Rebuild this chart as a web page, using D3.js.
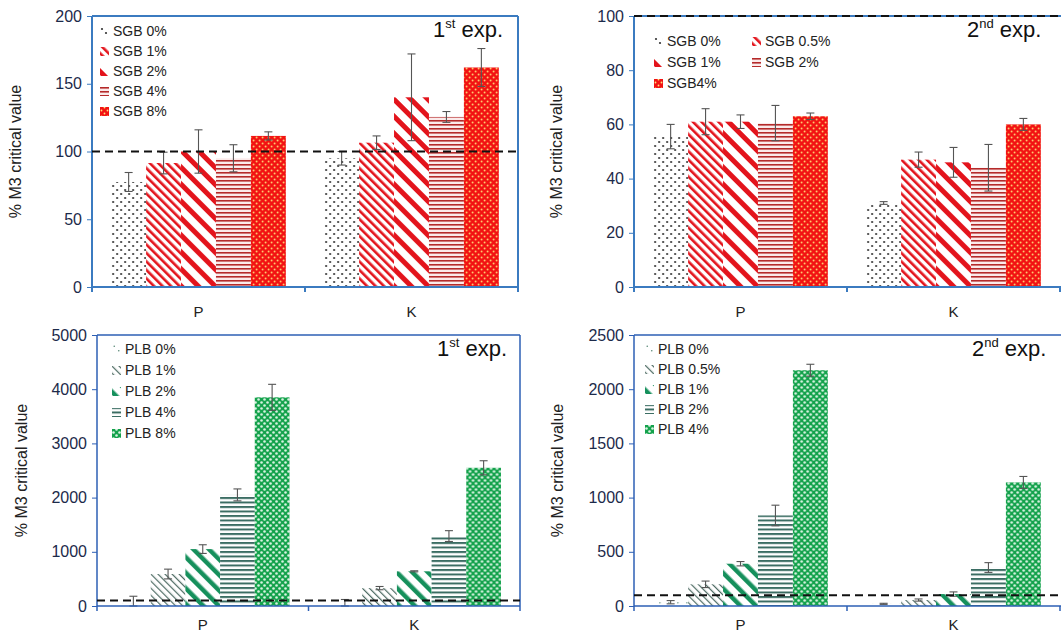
<!DOCTYPE html>
<html>
<head>
<meta charset="utf-8">
<script src="https://cdn.jsdelivr.net/npm/d3@7"></script>
<style>
body { margin: 0; background: #fff; }
svg { display: block; font-family: "Liberation Sans", Arial, sans-serif; }
</style>
</head>
<body>
<div id="chart"></div>
<script>
const groups = ['P', 'K'];

// SGB - 1st exp.
const sgb1Labels = ['SGB 0%', 'SGB 1%', 'SGB 2%', 'SGB 4%', 'SGB 8%'];
const sgb1P = [77.5, 91.5, 100, 95, 111.5];
const sgb1K = [95, 106.5, 140, 125.5, 162];
const sgb1ErrP = [7, 8, 16, 10, 3];
const sgb1ErrK = [5, 5, 32, 4, 14];

// SGB - 2nd exp.
const sgb2Labels = ['SGB 0%', 'SGB 0.5%', 'SGB 1%', 'SGB 2%', 'SGB4%'];
const sgb2P = [55.5, 61, 61, 60.5, 63];
const sgb2K = [31, 47, 46, 44, 60];
const sgb2ErrP = [4.5, 4.8, 2.5, 6.5, 1.2];
const sgb2ErrK = [0.5, 2.8, 5.5, 8.6, 2.2];

// PLB - 1st exp.
const plb1Labels = ['PLB 0%', 'PLB 1%', 'PLB 2%', 'PLB 4%', 'PLB 8%'];
const plb1P = [40, 590, 1050, 2050, 3850];
const plb1K = [30, 330, 640, 1290, 2550];
const plb1ErrP = [140, 90, 80, 110, 240];
const plb1ErrK = [90, 30, 10, 100, 130];

// PLB - 2nd exp.
const plb2Labels = ['PLB 0%', 'PLB 0.5%', 'PLB 1%', 'PLB 2%', 'PLB 4%'];
const plb2P = [35, 200, 390, 835, 2175];
const plb2K = [20, 55, 110, 355, 1140];
const plb2ErrP = [15, 30, 20, 95, 55];
const plb2ErrK = [5, 10, 20, 45, 55];

const critical = 100;

const svg = d3.select('#chart').append('svg')
    .attr('width', 1061)
    .attr('height', 636);
const defs = svg.append('defs');

// pattern helpers
function stripes(id, angle, period, lineW, color, bg) {
    const p = defs.append('pattern')
        .attr('id', id)
        .attr('patternUnits', 'userSpaceOnUse')
        .attr('width', period).attr('height', period)
        .attr('patternTransform', `rotate(${angle})`);
    p.append('rect').attr('width', period).attr('height', period).attr('fill', bg);
    p.append('rect').attr('width', lineW).attr('height', period).attr('fill', color);
}
function dots(id, size, r, color, bg) {
    const p = defs.append('pattern')
        .attr('id', id)
        .attr('patternUnits', 'userSpaceOnUse')
        .attr('width', size).attr('height', size);
    p.append('rect').attr('width', size).attr('height', size).attr('fill', bg);
    p.append('circle').attr('cx', size / 4).attr('cy', size / 4).attr('r', r).attr('fill', color);
    p.append('circle').attr('cx', size * 3 / 4).attr('cy', size * 3 / 4).attr('r', r).attr('fill', color);
}

dots('sgbDots', 8, 1.1, '#333', '#fff');
stripes('sgbThin', -45, 6, 2.6, '#e3141c', '#fff');
stripes('sgbWide', -45, 12, 5, '#e3141c', '#fff');
stripes('sgbHoriz', 90, 4, 1.6, '#b52a2a', '#fbeaea');
dots('sgbFull', 6, 0.9, '#ffe07a', '#f21212');

dots('plbDots', 9, 0.8, '#5a8a78', '#fff');
stripes('plbThin', -45, 5, 1.2, '#4d6b63', '#fff');
stripes('plbWide', -45, 11, 4.5, '#16905c', '#fff');
stripes('plbHoriz', 90, 4.5, 2, '#3b6d63', '#fff');
dots('plbFull', 6, 1.3, '#d9f3e2', '#14a24c');

const sgbPatterns = ['sgbDots', 'sgbThin', 'sgbWide', 'sgbHoriz', 'sgbFull'];
const plbPatterns = ['plbDots', 'plbThin', 'plbWide', 'plbHoriz', 'plbFull'];

class BarPanel {
    constructor(_config) {
        this.config = _config;
        this.initVis();
    }
    initVis() {
        let vis = this;
        const c = vis.config;
        vis.g = svg.append('g').attr('transform', `translate(${c.left},${c.top})`);

        vis.x0 = d3.scaleBand().domain(groups).range([0, c.xWidth || c.width])
            .paddingInner(0.18).paddingOuter(0.09);
        vis.x1 = d3.scaleBand().domain(d3.range(c.labels.length)).range([0, vis.x0.bandwidth()]);
        vis.y = d3.scaleLinear().domain([0, c.yMax]).range([c.height, 0]);

        vis.yAxis = d3.axisLeft(vis.y).tickValues(d3.range(0, c.yMax + 1, c.yStep))
            .tickFormat(d3.format('d'))
            .tickSize(5).tickPadding(5);
        vis.xAxis = d3.axisBottom(vis.x0).tickSize(0).tickPadding(c.xPad);
        vis.renderVis();
    }
    renderVis() {
        let vis = this;
        const c = vis.config;
        const rows = groups.map((gName, gi) => ({
            group: gName,
            bars: c.values[gi].map((v, i) => ({ i: i, v: v, e: c.errors[gi][i] }))
        }));

        // bars
        const gg = vis.g.selectAll('.grp').data(rows).join('g')
            .attr('class', 'grp')
            .attr('transform', d => `translate(${vis.x0(d.group)},0)`);
        gg.selectAll('rect').data(d => d.bars).join('rect')
            .attr('x', d => vis.x1(d.i))
            .attr('width', vis.x1.bandwidth())
            .attr('y', d => vis.y(d.v))
            .attr('height', d => c.height - vis.y(d.v))
            .attr('fill', d => `url(#${c.patterns[d.i]})`);

        // error bars
        const eb = gg.selectAll('.err').data(d => d.bars).join('g')
            .attr('class', 'err')
            .attr('transform', d => `translate(${vis.x1(d.i) + vis.x1.bandwidth() / 2},0)`)
            .attr('stroke', '#555').attr('stroke-width', 1.1);
        eb.append('line')
            .attr('y1', d => vis.y(d.v + d.e)).attr('y2', d => vis.y(Math.max(0, d.v - d.e)));
        eb.append('line').attr('x1', -4).attr('x2', 4)
            .attr('y1', d => vis.y(d.v + d.e)).attr('y2', d => vis.y(d.v + d.e));
        eb.append('line').attr('x1', -4).attr('x2', 4)
            .attr('y1', d => vis.y(Math.max(0, d.v - d.e))).attr('y2', d => vis.y(Math.max(0, d.v - d.e)));

        // frame
        const fr = vis.g.append('g').attr('stroke', c.frameColor).attr('stroke-width', c.frameWidth);
        fr.append('line').attr('x1', 0).attr('x2', 0).attr('y1', 0).attr('y2', c.height);
        fr.append('line').attr('x1', 0).attr('x2', c.width).attr('y1', c.height).attr('y2', c.height);
        fr.append('line').attr('x1', 0).attr('x2', c.width).attr('y1', 0).attr('y2', 0);
        fr.append('line').attr('x1', c.width).attr('x2', c.width).attr('y1', 0).attr('y2', c.height);
        // category boundary ticks
        fr.selectAll('.bt').data([0, vis.x0.step(), c.xWidth || c.width]).join('line')
            .attr('x1', d => d).attr('x2', d => d)
            .attr('y1', c.height).attr('y2', c.height + 5);

        // critical value
        vis.g.append('line')
            .attr('x1', 0).attr('x2', c.width)
            .attr('y1', vis.y(critical)).attr('y2', vis.y(critical))
            .attr('stroke', '#111').attr('stroke-width', 2)
            .attr('stroke-dasharray', '8,5');

        // axes
        const ya = vis.g.append('g').call(vis.yAxis);
        ya.select('.domain').remove();
        ya.selectAll('line').attr('stroke', c.frameColor);
        ya.selectAll('text').attr('font-size', 16).attr('fill', '#1c2a4a')
            .attr('font-family', 'Liberation Sans, Arial, sans-serif');
        const xa = vis.g.append('g').attr('transform', `translate(0,${c.height})`).call(vis.xAxis);
        xa.select('.domain').remove();
        xa.selectAll('text').attr('font-size', 15).attr('fill', '#222')
            .attr('font-family', 'Liberation Sans, Arial, sans-serif');

        // y title
        vis.g.append('text')
            .attr('transform', `translate(${c.titleX},${c.height / 2}) rotate(-90)`)
            .attr('text-anchor', 'middle')
            .attr('font-size', 16).attr('fill', '#222')
            .text('% M3 critical value');

        // experiment label
        const ex = vis.g.append('text')
            .attr('x', c.expX).attr('y', 21)
            .attr('font-size', 22).attr('fill', '#111');
        ex.append('tspan').text(c.exp[0]);
        ex.append('tspan').attr('font-size', 13).attr('dy', -9).text(c.exp[1]);
        ex.append('tspan').attr('dy', 9).text(' exp.');

        // legend (row-major when there are several columns)
        const lg = vis.g.selectAll('.leg').data(c.labels).join('g')
            .attr('class', 'leg')
            .attr('transform', (d, i) => {
                const col = i % c.legCols;
                const row = Math.floor(i / c.legCols);
                return `translate(${c.legX + col * c.legColW},${c.legY + row * c.legRowH})`;
            });
        lg.append('rect').attr('x', 0).attr('y', -8).attr('width', 9).attr('height', 9)
            .attr('fill', (d, i) => `url(#${c.patterns[i]})`);
        lg.append('text').attr('x', 13).attr('y', 1)
            .attr('font-size', 14).attr('fill', '#222')
            .text(d => d);
    }
}

new BarPanel({
    left: 92, top: 16, width: 426, height: 271, yMax: 200, yStep: 50,
    labels: sgb1Labels, values: [sgb1P, sgb1K], errors: [sgb1ErrP, sgb1ErrK],
    patterns: sgbPatterns, frameColor: '#3b7bc0', frameWidth: 2, xPad: 19,
    titleX: -71, expX: 341, exp: ['1', 'st'],
    legX: 8, legY: 19, legCols: 1, legColW: 0, legRowH: 20
});
new BarPanel({
    left: 634, top: 16, width: 440, xWidth: 426, height: 271, yMax: 100, yStep: 20,
    labels: sgb2Labels, values: [sgb2P, sgb2K], errors: [sgb2ErrP, sgb2ErrK],
    patterns: sgbPatterns, frameColor: '#3b7bc0', frameWidth: 2, xPad: 19,
    titleX: -72, expX: 333, exp: ['2', 'nd'],
    legX: 20, legY: 29, legCols: 2, legColW: 98, legRowH: 21
});
new BarPanel({
    left: 97, top: 335, width: 423, height: 271, yMax: 5000, yStep: 1000,
    labels: plb1Labels, values: [plb1P, plb1K], errors: [plb1ErrP, plb1ErrK],
    patterns: plbPatterns, frameColor: '#2d5fb5', frameWidth: 1.5, xPad: 13,
    titleX: -70, expX: 340, exp: ['1', 'st'],
    legX: 15, legY: 18, legCols: 1, legColW: 0, legRowH: 21
});
new BarPanel({
    left: 634, top: 335, width: 440, xWidth: 426, height: 271, yMax: 2500, yStep: 500,
    labels: plb2Labels, values: [plb2P, plb2K], errors: [plb2ErrP, plb2ErrK],
    patterns: plbPatterns, frameColor: '#2d5fb5', frameWidth: 1.5, xPad: 13,
    titleX: -71, expX: 338, exp: ['2', 'nd'],
    legX: 11, legY: 18, legCols: 1, legColW: 0, legRowH: 20
});
</script>
</body>
</html>
